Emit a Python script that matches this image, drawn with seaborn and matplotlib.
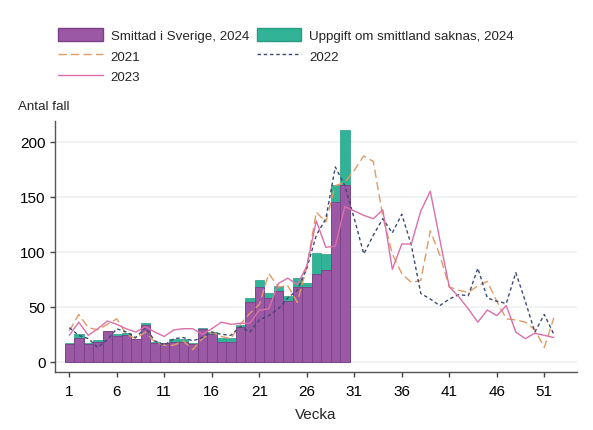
import numpy as np
import pandas as pd
import matplotlib
matplotlib.use('Agg')
import matplotlib.pyplot as plt
import seaborn as sns
from matplotlib.patches import Patch
from matplotlib.lines import Line2D

# veckor 2024 (staplar)
veckor_2024 = list(range(1, 31))
smittad_sverige = [16, 22, 16, 18, 28, 23, 24, 21, 33, 17, 17, 18, 18, 16, 30,
                   25, 18, 18, 32, 54, 68, 58, 64, 55, 68, 68, 80, 83, 145, 161]
saknas = [1.5, 3, 0.7, 2, 0, 2, 2, 0, 2, 0.6, 0, 3, 3, 1.3, 1,
          2.3, 3.8, 3.8, 1.3, 3.6, 6.5, 4.5, 4.5, 5, 7.8, 3.5, 19, 15, 16, 50]

# tidigare år (linjer)
veckor = list(range(1, 53))
fall_2021 = [28, 43, 31, 29, 34, 39, 25, 21, 27, 18, 15, 15, 19, 11, 21, 27, 23, 21,
             34, 44, 52, 80, 68, 69, 54, 86, 136, 127, 160, 163, 174, 187, 182, 132,
             98, 80, 72, 74, 119, 97, 68, 65, 63, 69, 73, 55, 39, 38, 36, 29, 13, 40]
fall_2022 = [31, 24, 21, 13, 20, 30, 27, 22, 31, 19, 15, 21, 22, 19, 22, 27, 25, 24,
             32, 27, 38, 42, 48, 58, 65, 85, 115, 130, 177, 160, 130, 98, 115, 130,
             117, 134, 106, 62, 57, 51, 57, 61, 60, 85, 58, 55, 53, 81, 55, 27, 43, 25]
fall_2023 = [24, 36, 24, 30, 37, 34, 30, 27, 32, 27, 23, 29, 30, 30, 25, 30, 36, 34,
             35, 35, 47, 48, 71, 76, 70, 87, 128, 104, 105, 141, 137, 133, 130, 138,
             84, 107, 107, 137, 155, 111, 68, 59, 48, 36, 47, 42, 51, 27, 21, 26, 24, 22]

lila = '#9b58a5'
lila_kant = '#7b3f8a'
gron = '#30b396'
orange = '#e39a63'
bla = '#3d4a72'
rosa = '#dc6fa8'

sns.set_style('white')
plt.rcParams['font.family'] = ['Liberation Sans', 'DejaVu Sans']

df24 = pd.DataFrame({'vecka': veckor_2024,
                     'smittad': smittad_sverige,
                     'totalt': np.array(smittad_sverige) + np.array(saknas)})
linjer = pd.DataFrame({'vecka': veckor * 3,
                       'antal': fall_2021 + fall_2022 + fall_2023,
                       'ar': ['2021'] * 52 + ['2022'] * 52 + ['2023'] * 52})

fig = plt.figure(figsize=(5.93, 4.31), dpi=100)
ax = fig.add_axes([0.0933, 0.1353, 0.8797, 0.5823])

# grid
for g in [0, 50, 100, 150, 200]:
    ax.axhline(g, color='#eef0f2', lw=1.2, zorder=0)

sns.barplot(data=df24, x='vecka', y='totalt', native_scale=True, color=gron,
            saturation=1, width=1, edgecolor='#2a9a82', linewidth=0.5,
            errorbar=None, ax=ax, zorder=2)
sns.barplot(data=df24, x='vecka', y='smittad', native_scale=True, color=lila,
            saturation=1, width=1, edgecolor=lila_kant, linewidth=0.6,
            errorbar=None, ax=ax, zorder=3)

sns.lineplot(data=linjer, x='vecka', y='antal', hue='ar', style='ar',
             palette={'2021': orange, '2022': bla, '2023': rosa},
             dashes={'2021': (6, 3), '2022': (2.5, 2), '2023': ''},
             linewidth=1, legend=False, ax=ax, zorder=4)

ax.set_xlim(-0.47, 54.44)
ax.set_ylim(-9, 219)
ax.set_xticks(range(1, 53, 5))
ax.set_yticks([0, 50, 100, 150, 200])
ax.tick_params(axis='both', labelsize=11, colors='#444444', length=3.6,
               width=1, direction='out', bottom=True, left=True, labelcolor='black')
ax.tick_params(axis='x', pad=5)
ax.set_xlabel('Vecka', fontsize=11, labelpad=7)
ax.set_ylabel('')
sns.despine(ax=ax)
for s in ['left', 'bottom']:
    ax.spines[s].set_color('#555555')
    ax.spines[s].set_linewidth(1)

fig.text(18 / 593, 1 - 107 / 431, 'Antal fall', fontsize=9.6, va='center', ha='left')

handles = [Patch(facecolor=lila, edgecolor=lila_kant, label='Smittad i Sverige, 2024'),
           Line2D([], [], color=orange, lw=1, dashes=(6, 3), label='2021'),
           Line2D([], [], color=rosa, lw=1, label='2023'),
           Patch(facecolor=gron, edgecolor='#2a9a82', label='Uppgift om smittland saknas, 2024'),
           Line2D([], [], color=bla, lw=1, dashes=(2.5, 2), label='2022')]
fig.legend(handles=handles, ncol=2, frameon=False, fontsize=9.6,
           loc='upper left', bbox_to_anchor=(53 / 593, 1 - 24 / 431),
           handlelength=3.33, handleheight=1.06, handletextpad=0.6,
           columnspacing=0.6, labelspacing=0.5, borderaxespad=0)

fig.savefig('out.png', dpi=100)
